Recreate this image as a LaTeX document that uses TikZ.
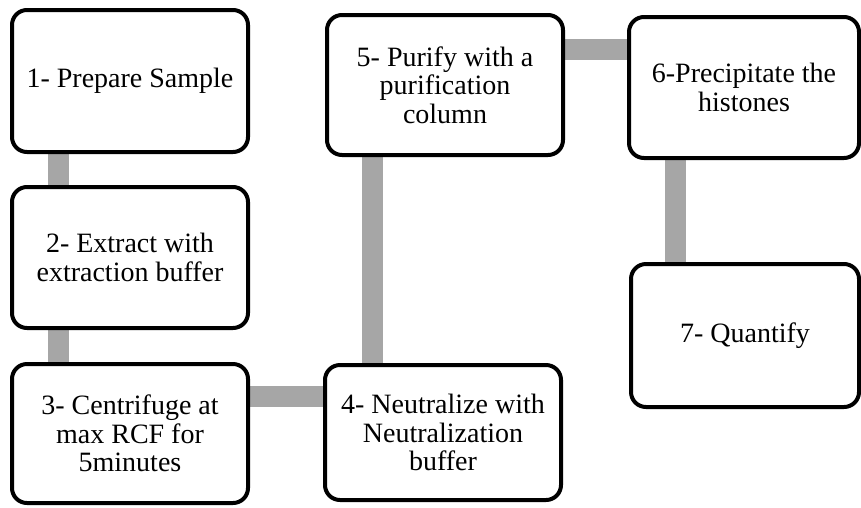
\documentclass[tikz,border=0pt]{standalone}
\usepackage{fontspec}
\setmainfont{Liberation Serif}
\usetikzlibrary{calc,backgrounds}
\definecolor{conngray}{RGB}{166,166,166}
\begin{document}
\begin{tikzpicture}[x=1pt,y=-1pt,
  stepbox/.style={draw=black, line width=4pt, rounded corners=15pt, fill=white,
    align=center, font=\fontsize{28}{28.5}\selectfont, inner sep=0pt},
  conn/.style={draw=conngray, line width=21pt}]
\useasboundingbox (0,0) rectangle (861,507);
\node[stepbox, minimum width=236pt, minimum height=142pt] (b1) at (130,81) {1- Prepare Sample};
\node[stepbox, minimum width=236pt, minimum height=141pt] (b2) at (130,257.5) {2- Extract with\\extraction buffer};
\node[stepbox, minimum width=236pt, minimum height=139pt] (b3) at (130,433.5) {3- Centrifuge at\\max RCF for\\5minutes};
\node[stepbox, minimum width=236pt, minimum height=135pt] (b4) at (443,432.5) {4- Neutralize with\\Neutralization\\buffer};
\node[stepbox, minimum width=236pt, minimum height=140pt] (b5) at (445,85) {5- Purify with a\\purification\\column};
\node[stepbox, minimum width=230pt, minimum height=141pt] (b6) at (744,87.5) {6-Precipitate the\\histones};
\node[stepbox, minimum width=228pt, minimum height=143pt] (b7) at (745,335.5) {7- Quantify};
\begin{scope}[on background layer]
  \draw[conn] ($(b1.south west)+(48,0)$) coordinate (p12) -- (p12 |- b2.north);
  \draw[conn] ($(b2.south west)+(48,0)$) coordinate (p23) -- (p23 |- b3.north);
  \draw[conn] ($(b3.north east)+(0,34)$) coordinate (p34) -- (p34 -| b4.west);
  \draw[conn] ($(b4.north west)+(49.5,0)$) coordinate (p45) -- (p45 |- b5.south);
  \draw[conn] ($(b5.north east)+(0,36.5)$) coordinate (p56) -- (p56 -| b6.west);
  \draw[conn] ($(b6.south west)+(48.5,0)$) coordinate (p67) -- (p67 |- b7.north);
\end{scope}
\end{tikzpicture}
\end{document}
